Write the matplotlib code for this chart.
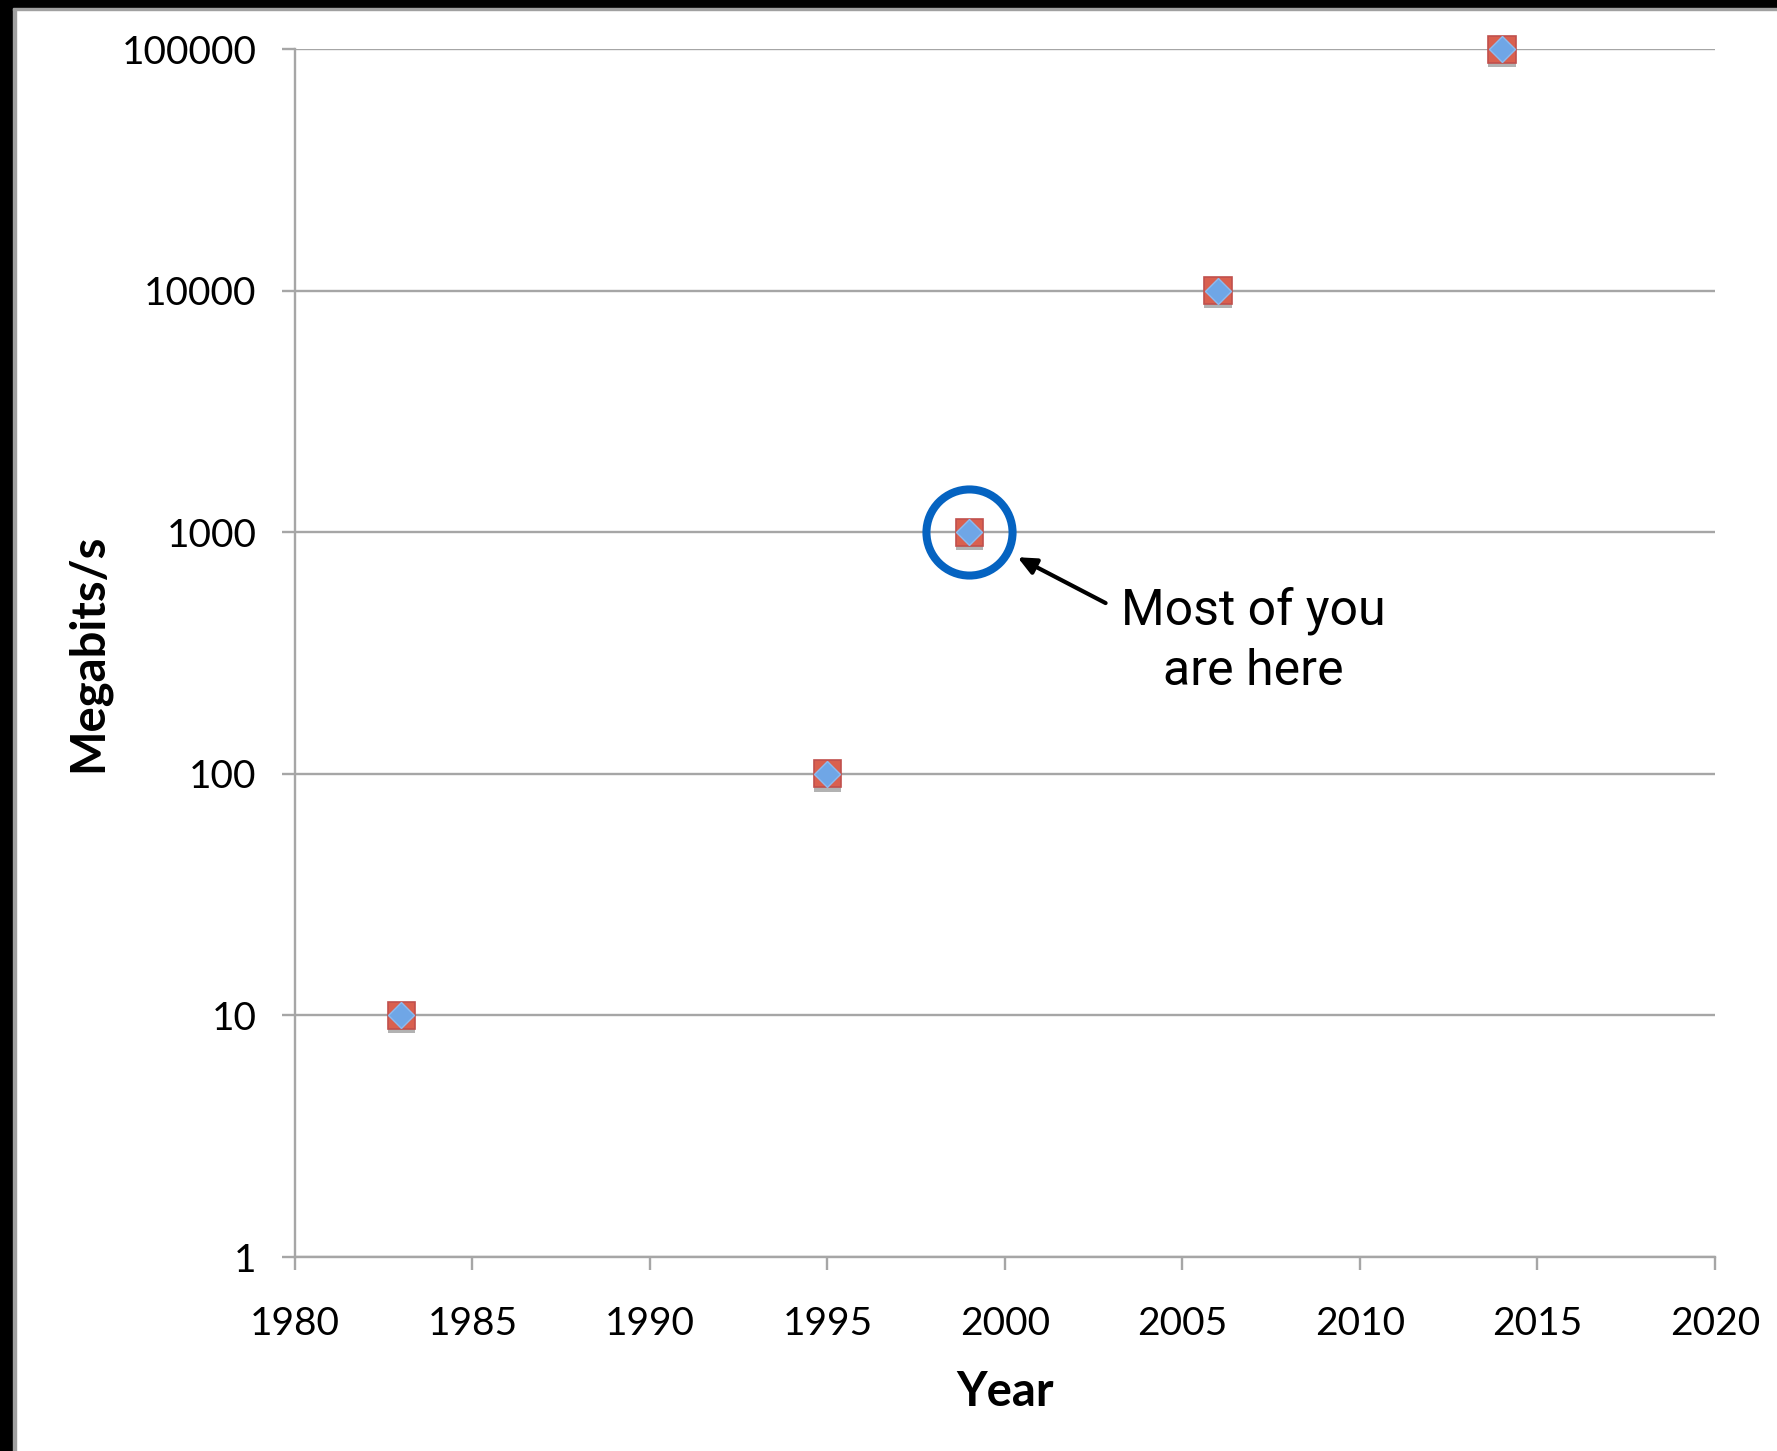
import numpy as np
import matplotlib
matplotlib.use('Agg')
import matplotlib.pyplot as plt
import matplotlib.patheffects as pe
from matplotlib.patches import Rectangle

# data
years = [1983, 1995, 1999, 2006, 2014]
mbps = [10, 100, 1000, 10000, 100000]
highlight_year = 1999
highlight_mbps = 1000
xticks = [1980, 1985, 1990, 1995, 2000, 2005, 2010, 2015, 2020]
yticks = [1, 10, 100, 1000, 10000, 100000]
ytick_labels = ['1', '10', '100', '1000', '10000', '100000']
note = 'Most of you\nare here'

grid_gray = '#a6a6a6'

fig = plt.figure(figsize=(17.77, 14.51), dpi=100)
ax = fig.add_axes([0.166, 0.1337, 0.7991, 0.8325])

ax.set_yscale('log')
ax.set_xlim(1980, 2020)
ax.set_ylim(1, 100000)

shadow = [pe.SimplePatchShadow(offset=(0, -3), shadow_rgbFace='#555555', alpha=0.45), pe.Normal()]

# red square series with blue diamond on top
ax.plot(years, mbps, linestyle='none', marker='s', markersize=19.5,
        markerfacecolor='#d9604f', markeredgecolor='#c0504d', markeredgewidth=1.2,
        path_effects=shadow, zorder=3, clip_on=False)
ax.plot(years, mbps, linestyle='none', marker='D', markersize=13.5,
        markerfacecolor='#6fa6e6', markeredgecolor='#8dbbef', markeredgewidth=1.0,
        zorder=4, clip_on=False)

# blue ring round the 1999 point
ax.plot([highlight_year], [highlight_mbps], linestyle='none', marker='o', markersize=62,
        markerfacecolor='none', markeredgecolor='#0563c1', markeredgewidth=5.8, zorder=5)

ax.annotate('', xy=(highlight_year, highlight_mbps), xytext=(98, -51),
            textcoords='offset points',
            arrowprops=dict(arrowstyle='-|>,head_length=1.1,head_width=0.5', color='black',
                            lw=3, shrinkA=0, shrinkB=39))
ax.annotate(note, xy=(highlight_year, highlight_mbps), xytext=(204, -78),
            textcoords='offset points', ha='center', va='center',
            fontsize=36, family='Roboto', fontweight='normal', linespacing=1.32)

ax.set_xticks(xticks)
ax.set_xticklabels([str(x) for x in xticks])
ax.set_yticks(yticks)
ax.set_yticklabels(ytick_labels)
ax.yaxis.set_minor_locator(matplotlib.ticker.NullLocator())

ax.grid(axis='y', color=grid_gray, linewidth=1.7)
ax.set_axisbelow(True)
for s in ['top', 'right']:
    ax.spines[s].set_visible(False)
for s in ['left', 'bottom']:
    ax.spines[s].set_color(grid_gray)
    ax.spines[s].set_linewidth(1.7)

ax.tick_params(axis='both', direction='out', length=9.5, width=1.7, color=grid_gray,
               labelsize=28)
ax.tick_params(axis='y', pad=18)
ax.tick_params(axis='x', pad=26)
for lab in ax.get_xticklabels() + ax.get_yticklabels():
    lab.set_family('Lato')

ax.set_xlabel('Year', fontsize=34, fontweight='bold', family='Lato', labelpad=20)
ax.set_ylabel('Megabits/s', fontsize=34, fontweight='bold', family='Lato', labelpad=8)

# dark frame on the left and top edges of the slide
fig.add_artist(Rectangle((0, 0), 0.0074, 1, transform=fig.transFigure, color='black', zorder=10))
fig.add_artist(Rectangle((0.0074, 0), 0.0017, 1, transform=fig.transFigure, color='#a0a0a0', zorder=10))
fig.add_artist(Rectangle((0, 1 - 0.0056), 1, 0.0056, transform=fig.transFigure, color='black', zorder=10))
fig.add_artist(Rectangle((0.0074, 1 - 0.0070), 1, 0.0014, transform=fig.transFigure, color='#a0a0a0', zorder=10))

fig.savefig('out.png', dpi=100)
